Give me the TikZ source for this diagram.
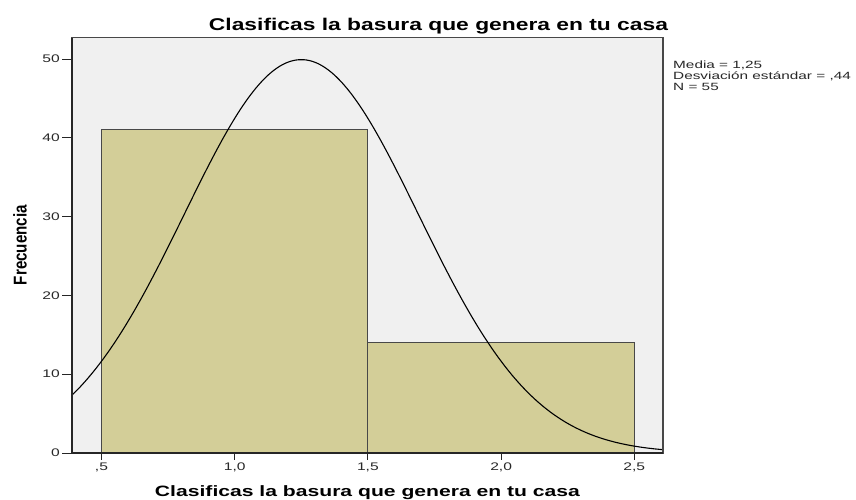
\documentclass[tikz,border=0pt]{standalone}
\usepackage{fontspec}
\setmainfont{Liberation Sans}
\usepackage{graphicx}
\definecolor{plotbg}{RGB}{240,240,240}
\definecolor{barfill}{RGB}{211,206,152}
\definecolor{edgegray}{RGB}{72,72,72}
\definecolor{txtgray}{RGB}{40,40,40}
\newcommand\ticklab[1]{\scalebox{1.42}[1]{\fontsize{11}{13}\selectfont #1}}
\newcommand\leglab[1]{\scalebox{1.46}[1]{\fontsize{10.5}{12}\selectfont #1}}
\begin{document}
\begin{tikzpicture}[x=1pt,y=-1pt,
  declare function={zz(\t)=(0.5+(\t-101.5)/266.4-1.25)/0.4396;},
  barstyle/.style={fill=barfill,draw=edgegray,line width=1pt},
  framestyle/.style={draw=edgegray,line width=1.1pt},
  curvestyle/.style={draw=black,line width=1.1pt},
  tickstyle/.style={draw=black!85,line width=1pt},
  ticktext/.style={inner sep=0pt,text=txtgray},
  legtext/.style={inner sep=0pt,anchor=base west,text=txtgray}]
\useasboundingbox (0,0) rectangle (856,499);
\fill[white] (0,0) rectangle (856,499);
\fill[plotbg] (72,37.5) rectangle (663,453);
% bars
\draw[barstyle] (101.5,453) rectangle (367.9,129.9);
\draw[barstyle] (367.9,453) rectangle (634.3,342.7);
% normal curve
\draw[curvestyle] plot[domain=72:663,samples=220,smooth] (\x,{453-393.3*exp(-0.5*zz(\x)*zz(\x))});
% frame
\draw[framestyle] (72,37.5) rectangle (663,453);
\draw[draw=black!85,line width=1.2pt] (72,37.5) -- (72,453) -- (663,453);
% y ticks
\foreach \f in {0,10,20,30,40,50}{
  \draw[tickstyle] (62,{453-\f*7.88}) -- (72,{453-\f*7.88});
  \node[ticktext,anchor=east] (yt\f) at (60,{453-\f*7.88}) {\ticklab{\f}};
}
% x ticks
\foreach \xv/\lab/\nm in {101.5/{,5}/a,234.7/{1,0}/b,367.9/{1,5}/c,501.1/{2,0}/d,634.3/{2,5}/e}{
  \draw[tickstyle] (\xv,453) -- (\xv,460);
  \node[ticktext,anchor=north] (xt\nm) at (\xv,462.5) {\ticklab{\lab}};
}
% legend
\node[legtext] (media) at (673,68.3) {\leglab{Media = 1,25}};
\node[legtext] (desv) at (673,79.5) {\leglab{Desviación estándar = ,44}};
\node[legtext] (nn) at (673,90.7) {\leglab{N = 55}};
% titles
\node[inner sep=0pt,anchor=base] (title) at (438.5,30) {\resizebox{459pt}{\height}{\fontsize{17}{20}\selectfont\bfseries Clasificas la basura que genera en tu casa}};
\node[inner sep=0pt,anchor=base] (xlabel) at (367.5,496.5) {\resizebox{425pt}{\height}{\fontsize{15}{18}\selectfont\bfseries Clasificas la basura que genera en tu casa}};
\node[inner sep=0pt,anchor=base,rotate=90] (ylabel) at (26.5,245) {\resizebox{80pt}{\height}{\fontsize{18.5}{22}\selectfont\bfseries Frecuencia}};
\end{tikzpicture}
\end{document}
